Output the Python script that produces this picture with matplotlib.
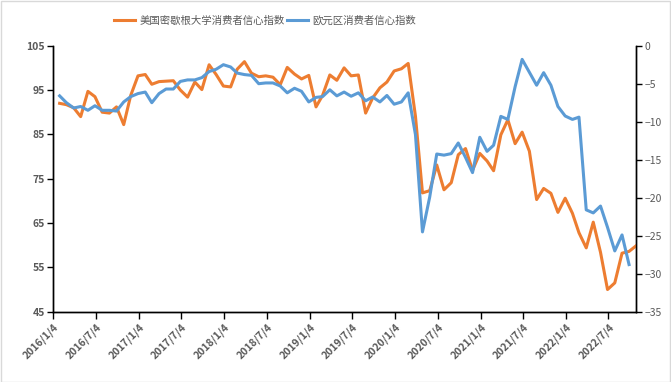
import matplotlib
matplotlib.use("Agg")
import matplotlib.pyplot as plt
import matplotlib.dates as mdates
import pandas as pd
import numpy as np
from matplotlib.patches import Rectangle

plt.rcParams['font.family'] = ['Noto Sans CJK SC', 'DejaVu Sans']

# Monthly data, Jan 2016 onwards (dated at month end)
us_sentiment = [
    92.0, 91.7, 91.0, 89.0, 94.7, 93.5, 90.0, 89.8, 91.2, 87.2, 93.8, 98.2,
    98.5, 96.3, 96.9, 97.0, 97.1, 95.0, 93.4, 96.8, 95.1, 100.7, 98.5, 95.9,
    95.7, 99.7, 101.4, 98.8, 98.0, 98.2, 97.9, 96.2, 100.1, 98.6, 97.5, 98.3,
    91.2, 93.8, 98.4, 97.2, 100.0, 98.2, 98.4, 89.8, 93.2, 95.5, 96.8, 99.3,
    99.8, 101.0, 89.1, 71.8, 72.3, 78.1, 72.5, 74.1, 80.4, 81.8, 76.9, 80.7,
    79.0, 76.8, 84.9, 88.3, 82.9, 85.5, 81.2, 70.3, 72.8, 71.7, 67.4, 70.6,
    67.2, 62.8, 59.4, 65.2, 58.4, 50.0, 51.5, 58.2, 58.6, 59.9,
]
ez_confidence = [
    -6.6, -7.5, -8.2, -8.0, -8.5, -7.9, -8.5, -8.5, -8.6, -7.4, -6.7, -6.3,
    -6.1, -7.5, -6.3, -5.7, -5.7, -4.7, -4.5, -4.5, -4.2, -3.4, -3.1, -2.5,
    -2.8, -3.6, -3.8, -3.9, -5.0, -4.9, -4.9, -5.3, -6.2, -5.6, -6.0, -7.4,
    -6.8, -6.7, -5.8, -6.6, -6.1, -6.65, -6.2, -7.25, -6.75, -7.4, -6.55, -7.7,
    -7.4, -6.2, -11.7, -24.5, -19.9, -14.25, -14.4, -14.2, -12.8, -14.7, -16.7, -12.05,
    -13.9, -13.1, -9.3, -9.7, -5.4, -1.8, -3.5, -5.2, -3.55, -5.2, -8.0, -9.25,
    -9.7, -9.4, -21.6, -22.0, -21.1, -23.9, -27.0, -24.9, -28.8,
]
label_us = '美国密歇根大学消费者信心指数'
label_ez = '欧元区消费者信心指数'

dates_us = pd.date_range('2016-01-31', periods=len(us_sentiment), freq='ME')
dates_ez = pd.date_range('2016-01-31', periods=len(ez_confidence), freq='ME')
tick_dates = pd.date_range('2016-01-04', periods=14, freq=pd.DateOffset(months=6))
tick_labels = [f"{d.year}/{d.month}/{d.day}" for d in tick_dates]

W, H = 671, 382
fig = plt.figure(figsize=(W / 100, H / 100), dpi=100)
fig.patches.append(Rectangle((0.5 / W, 0.5 / H), 1 - 1.5 / W, 1 - 1.5 / H,
                             transform=fig.transFigure, fill=False,
                             edgecolor='#d9d9d9', linewidth=1.0))

L, R, T, B = 53.3, 636.3, 45.7, 311.7
ax = fig.add_axes([L / W, 1 - B / H, (R - L) / W, (B - T) / H])
ax2 = ax.twinx()

orange = '#ED7D31'
blue = '#5B9BD5'
ln1, = ax.plot(dates_us, us_sentiment, color=orange, lw=2.2, solid_joinstyle='round', zorder=3)
ln2, = ax2.plot(dates_ez, ez_confidence, color=blue, lw=2.2, solid_joinstyle='round', zorder=3)

ax.set_xlim(pd.Timestamp('2016-01-04'), pd.Timestamp('2022-10-31'))
ax.set_ylim(45, 105)
ax.set_yticks(np.arange(45, 106, 10))
ax2.set_ylim(-35, 0)
ax2.set_yticks(np.arange(-35, 1, 5))

ax.set_xticks(tick_dates)
ax.set_xticklabels(tick_labels, rotation=45, ha='right', rotation_mode='anchor',
                   fontsize=7.5, fontweight='bold', color='#595959')

for a in (ax, ax2):
    a.spines['top'].set_visible(False)
    for s in a.spines.values():
        s.set_color('black')
        s.set_linewidth(1.0)
    a.set_facecolor('none')

ax.tick_params(axis='x', direction='out', length=5, width=1, pad=2, color='black')
ax.tick_params(axis='y', direction='out', length=4, width=1, pad=2, color='black',
               labelsize=7.5, labelcolor='#595959')
for lab in ax.get_yticklabels():
    lab.set_fontweight('bold')
ax2.tick_params(axis='y', direction='out', length=4, width=1, pad=2, color='black',
                labelsize=7.5, labelcolor='#595959')

leg = fig.legend([ln1, ln2], [label_us, label_ez], loc='center',
                 bbox_to_anchor=(265 / W, 1 - 21 / H), ncol=2, frameon=False,
                 fontsize=7.5, handlelength=2.0, handletextpad=0.4,
                 columnspacing=0.2, borderaxespad=0, borderpad=0)
for t in leg.get_texts():
    t.set_color('#595959')

fig.savefig('out.png', dpi=100)
